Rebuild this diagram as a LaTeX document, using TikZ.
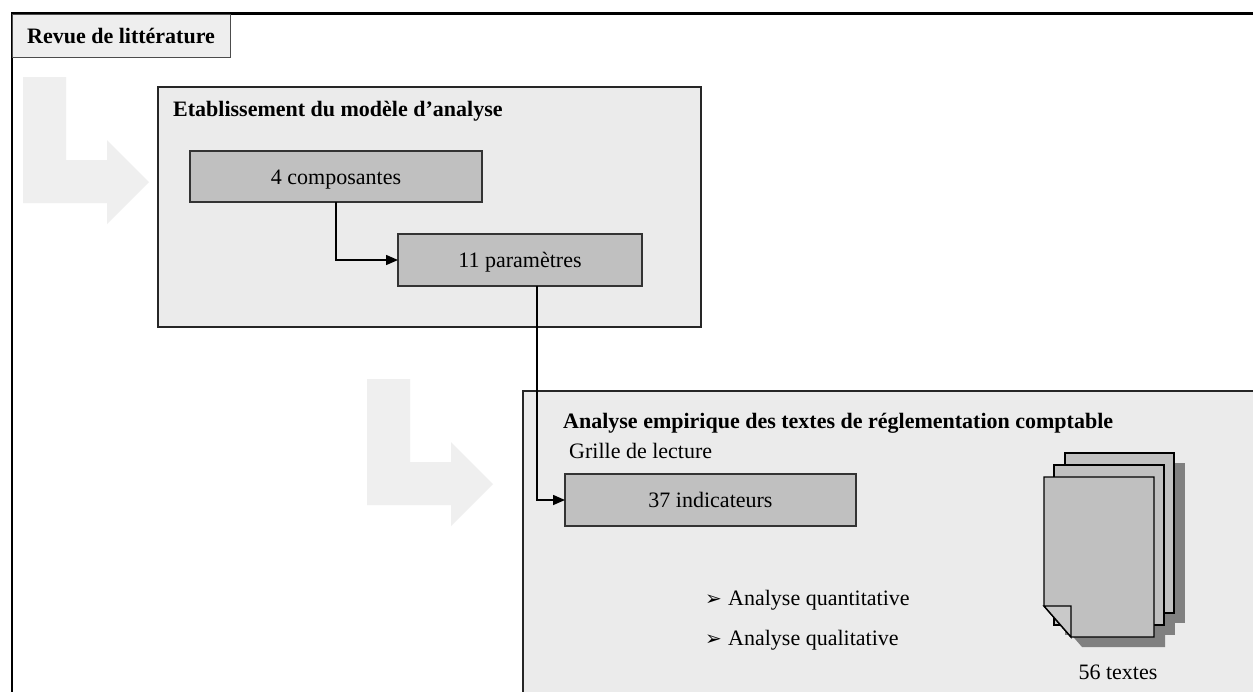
\documentclass[tikz,border=0pt]{standalone}
\usepackage{fontspec}
\setmainfont{Liberation Serif}
\newfontfamily\symfont{DejaVu Sans}
\usetikzlibrary{arrows.meta}
\definecolor{boxlight}{HTML}{EBEBEB}
\definecolor{arrowgray}{HTML}{EFEFEF}
\definecolor{revuegray}{HTML}{EEEEEE}
\definecolor{darkbox}{HTML}{C0C0C0}
\definecolor{shadowgray}{HTML}{808080}
\tikzset{
  bigbox/.style={draw=black!85, line width=1.6pt, fill=boxlight, inner sep=0pt, outer sep=0pt, anchor=north west},
  graybox/.style={draw=black!80, line width=1.2pt, fill=darkbox, inner sep=0pt, outer sep=0pt, text height=15pt, text depth=0pt},
  titletext/.style={anchor=base west, inner sep=0pt, font=\fontsize{22}{26}\selectfont\bfseries},
  plaintext/.style={anchor=base west, inner sep=0pt},
  bigarrow/.style={fill=arrowgray, draw=none},
  conn/.style={line width=1.5pt, -{Triangle[length=12pt,width=10pt]}},
  page/.style={fill=darkbox, draw=black, line width=1.4pt, line join=miter},
  pageshadow/.style={fill=shadowgray, draw=none},
  frameline/.style={line width=2.6pt, black}
}
\begin{document}
\begin{tikzpicture}[x=1pt, y=-1pt, font=\fontsize{22}{26}\selectfont]
\useasboundingbox (0,0) rectangle (1253,691);
\clip (0,0) rectangle (1253,691);
\fill[white] (0,0) rectangle (1253,691);

% big light arrows
\fill[bigarrow] (23,77) -- (66,77) -- (66,160) -- (107,160) -- (107,140) -- (149,182) -- (107,224) -- (107,203) -- (23,203) -- cycle;
\begin{scope}[shift={(344,302)}]
\fill[bigarrow] (23,77) -- (66,77) -- (66,160) -- (107,160) -- (107,140) -- (149,182) -- (107,224) -- (107,203) -- (23,203) -- cycle;
\end{scope}

% outer frame
\draw[frameline] (12,700) -- (12,13.5) -- (1260,13.5);

% Revue de litterature
\node[draw=black!70, line width=1pt, fill=revuegray, inner sep=0pt, outer sep=0pt, anchor=north west,
      minimum width=218pt, minimum height=43pt, font=\fontsize{22}{26}\selectfont\bfseries,
      text height=15pt, text depth=0pt] (revue) at (12,14) {Revue de littérature};

% Etablissement box
\node[bigbox, minimum width=543pt, minimum height=240pt] (etab) at (158,87) {};
\node[titletext] (etabtitle) at (173,116) {Etablissement du modèle d’analyse};
\node[graybox, minimum width=292pt, minimum height=51pt] (comp) at (336,176.5) {4 composantes};
\node[graybox, minimum width=244pt, minimum height=52pt] (param) at (520,260) {11 paramètres};

% Analyse box
\node[bigbox, minimum width=800pt, minimum height=400pt] (ana) at (523,391) {};
\node[titletext] (anatitle) at (563,428) {Analyse empirique des textes de réglementation comptable};
\node[plaintext] (grille) at (569,458) {Grille de lecture};
\node[graybox, minimum width=291pt, minimum height=52pt] (ind) at (710.5,500) {37 indicateurs};

\node[plaintext] (b1) at (705,605) {\makebox[23pt][l]{\symfont\fontsize{20}{24}\selectfont ➢}Analyse quantitative};
\node[plaintext] (b2) at (705,645) {\makebox[23pt][l]{\symfont\fontsize{20}{24}\selectfont ➢}Analyse qualitative};

% connectors
\draw[conn] (comp.south) |- (param.west);
\draw[conn] ([xshift=17pt]param.south) |- (ind.west);

% document stack
\begin{scope}[shift={(11,10)}]
\fill[pageshadow] (1065,453) rectangle (1174,613);
\fill[pageshadow] (1054,465) rectangle (1164,625);
\fill[pageshadow] (1044,477) -- (1154,477) -- (1154,637) -- (1071,637) -- (1044,606) -- cycle;
\end{scope}
\draw[page] (1065,453) rectangle (1174,613);
\draw[page] (1054,465) rectangle (1164,625);
\draw[page] (1044,477) -- (1154,477) -- (1154,637) -- (1071,637) -- (1044,606) -- cycle;
\draw[page, fill=darkbox!85!white] (1044,606) -- (1071,606) -- (1071,637) -- cycle;
\node[anchor=base, inner sep=0pt] (textes) at (1118,679) {56 textes};
\end{tikzpicture}
\end{document}
